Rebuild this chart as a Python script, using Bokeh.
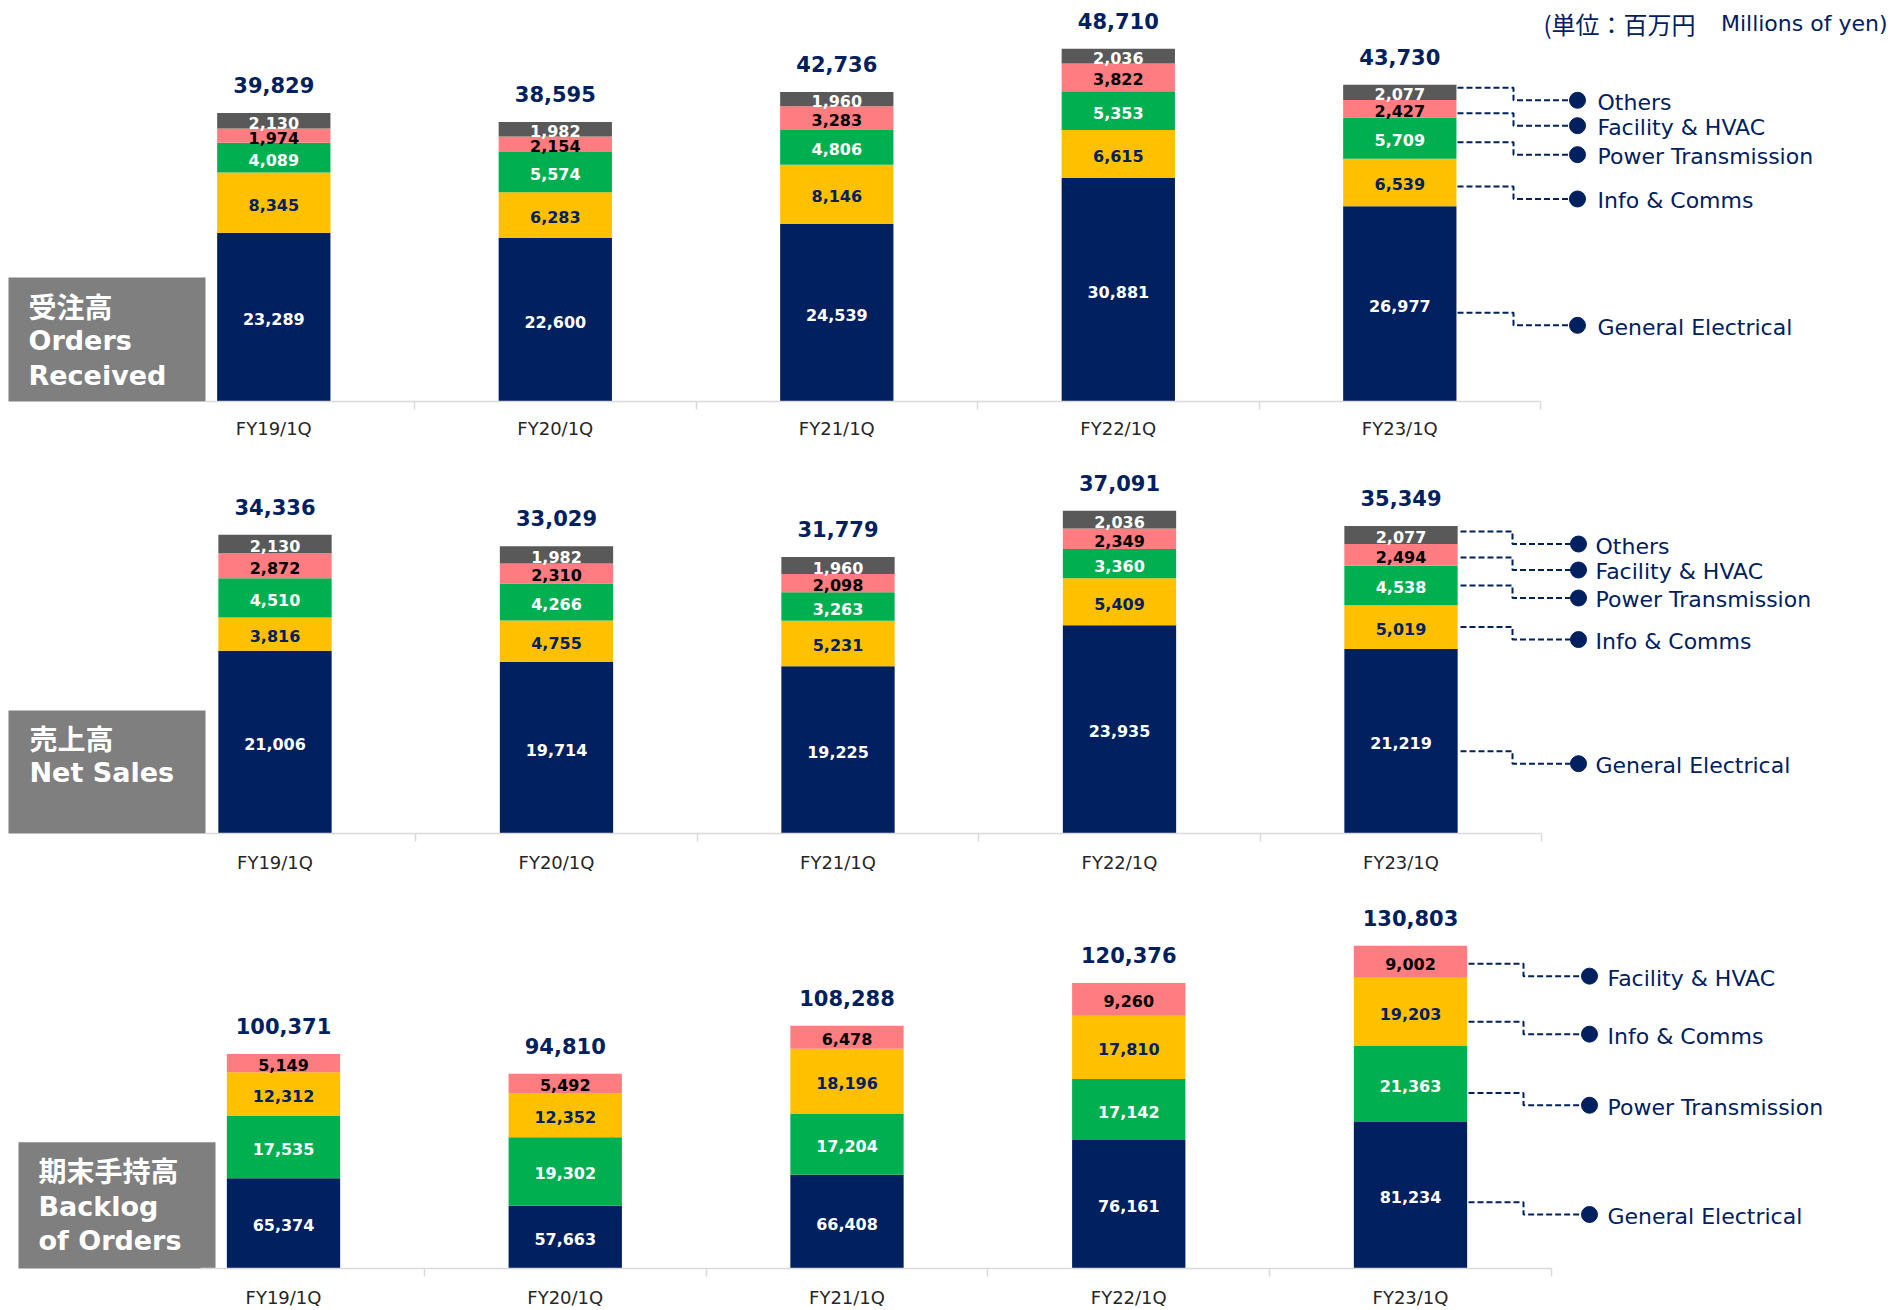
import numpy as np
from bokeh.plotting import figure
from bokeh.layouts import column
from bokeh.models import Range1d, FixedTicker, ColumnDataSource
from bokeh.core.properties import value
from bokeh.embed import file_html
from bokeh.resources import INLINE

# ---------------- data ----------------
categories = ["FY19/1Q", "FY20/1Q", "FY21/1Q", "FY22/1Q", "FY23/1Q"]

orders_general = [23289, 22600, 24539, 30881, 26977]
orders_info = [8345, 6283, 8146, 6615, 6539]
orders_power = [4089, 5574, 4806, 5353, 5709]
orders_facility = [1974, 2154, 3283, 3822, 2427]
orders_others = [2130, 1982, 1960, 2036, 2077]
orders_totals = [39829, 38595, 42736, 48710, 43730]

sales_general = [21006, 19714, 19225, 23935, 21219]
sales_info = [3816, 4755, 5231, 5409, 5019]
sales_power = [4510, 4266, 3263, 3360, 4538]
sales_facility = [2872, 2310, 2098, 2349, 2494]
sales_others = [2130, 1982, 1960, 2036, 2077]
sales_totals = [34336, 33029, 31779, 37091, 35349]

backlog_general = [65374, 57663, 66408, 76161, 81234]
backlog_power = [17535, 19302, 17204, 17142, 21363]
backlog_info = [12312, 12352, 18196, 17810, 19203]
backlog_facility = [5149, 5492, 6478, 9260, 9002]
backlog_totals = [100371, 94810, 108288, 120376, 130803]

# ---------------- styles ----------------
NAVY = "#002060"
STYLE = {
    "General Electrical": ("#002060", "white"),
    "Info & Comms": ("#FFC000", "#002060"),
    "Power Transmission": ("#00B050", "white"),
    "Facility & HVAC": ("#FF7C80", "black"),
    "Others": ("#595959", "white"),
}
LATIN = "DejaVu Sans"
CJK = "Noto Sans CJK JP"
FIG_W = 1892
PAGE_X0 = 0

panels = [
    dict(series=[("General Electrical", orders_general), ("Info & Comms", orders_info),
                 ("Power Transmission", orders_power), ("Facility & HVAC", orders_facility),
                 ("Others", orders_others)],
         totals=orders_totals,
         fig_top=0, fig_h=452, base_py=401, y_start=0, ppu=0.007241,
         c0=273.3, dx=281.5, bar_px=113.3, axis_start_px=205, standoff=8,
         box=(8, 205, 277, 402), box_text_x=28,
         box_lines=[("受注高", 305, True), ("Orders", 340, False), ("Received", 375, False)],
         leg=(1457, 1513, 1577, 1597),
         nudge={"General Electrical": 9, "Info & Comms": 4, "Power Transmission": 4,
                "Facility & HVAC": 4.5, "Others": -4.6},
         unit=True),
    dict(series=[("General Electrical", sales_general), ("Info & Comms", sales_info),
                 ("Power Transmission", sales_power), ("Facility & HVAC", sales_facility),
                 ("Others", sales_others)],
         totals=sales_totals,
         fig_top=452, fig_h=433, base_py=833, y_start=0, ppu=0.0087,
         c0=274.5, dx=281.5, bar_px=113.3, axis_start_px=205, standoff=10,
         box=(8, 205, 710, 834), box_text_x=29,
         box_lines=[("売上高", 737, True), ("Net Sales", 772, False)],
         leg=(1460, 1512, 1578, 1595),
         nudge={"General Electrical": 10, "Info & Comms": 0, "Power Transmission": 0,
                "Facility & HVAC": 2.6, "Others": -3.5},
         unit=False),
    dict(series=[("General Electrical", backlog_general), ("Power Transmission", backlog_power),
                 ("Info & Comms", backlog_info), ("Facility & HVAC", backlog_facility)],
         totals=backlog_totals,
         fig_top=885, fig_h=425, base_py=1273, y_start=40000, ppu=0.0036,
         c0=283.0, dx=281.75, bar_px=113.3, axis_start_px=200, standoff=10,
         box=(18, 215, 1145, 1274), box_text_x=38,
         box_lines=[("期末手持高", 1173, True), ("Backlog", 1210, False), ("of Orders", 1245, False)],
         leg=(1468, 1523, 1589, 1607),
         nudge={"General Electrical": 7, "Power Transmission": 9, "Info & Comms": 10,
                "Facility & HVAC": 2},
         unit=False),
]


def make_panel(cfg):
    frame_h = cfg["base_py"] - cfg["fig_top"]
    c0, dx, ppu, y0, base = cfg["c0"], cfg["dx"], cfg["ppu"], cfg["y_start"], cfg["base_py"]

    def xd(px):
        return (px - c0) / dx

    def yd(py):
        return y0 + (base - py) / ppu

    p = figure(width=FIG_W, height=cfg["fig_h"],
               x_range=Range1d(xd(PAGE_X0), xd(PAGE_X0 + FIG_W)),
               y_range=Range1d(y0, y0 + frame_h / ppu),
               output_backend="svg", toolbar_location=None, y_axis_location=None,
               min_border_left=0, min_border_right=0, min_border_top=0,
               min_border_bottom=cfg["fig_h"] - frame_h)
    p.xgrid.visible = False
    p.ygrid.visible = False
    p.outline_line_color = None

    n = len(categories)
    xs = np.arange(n, dtype=float)
    bw = cfg["bar_px"] / dx

    # grey title box
    bl, br, bt, bb = cfg["box"]
    p.quad(left=[xd(bl)], right=[xd(br)], top=[yd(bt)], bottom=[yd(bb)],
           fill_color="#7F7F7F", line_color=None)
    for txt, py, is_jp in cfg["box_lines"]:
        p.text(x=[xd(cfg["box_text_x"])], y=[yd(py)], text=[txt],
               text_font=value(CJK if is_jp else LATIN), text_font_style="bold",
               text_font_size="28px" if is_jp else "27px", text_color="white",
               text_align="left", text_baseline="middle")

    # stacked bars
    bottom = np.zeros(n)
    seg_info = []
    for name, vals in cfg["series"]:
        vals = np.array(vals, dtype=float)
        top = bottom + vals
        fill, tcol = STYLE[name]
        src = ColumnDataSource(dict(x=xs, bottom=bottom.copy(), top=top,
                                    mid=(np.maximum(bottom, y0) + top) / 2,
                                    label=[f"{int(v):,}" for v in vals]))
        p.vbar(x="x", bottom="bottom", top="top", width=bw, source=src,
               fill_color=fill, line_color=None)
        seg_info.append((name, src, tcol))
        bottom = top

    for name, src, tcol in seg_info:
        p.text(x="x", y="mid", text="label", source=src, text_font=value(LATIN),
               text_font_style="bold", text_font_size="16px", text_color=tcol,
               text_align="center", text_baseline="middle", y_offset=2)

    # totals
    tsrc = ColumnDataSource(dict(x=xs, y=bottom, label=[f"{t:,}" for t in cfg["totals"]]))
    p.text(x="x", y="y", text="label", source=tsrc, text_font=value(LATIN),
           text_font_style="bold", text_font_size="21px", text_color=NAVY,
           text_align="center", text_baseline="middle", y_offset=-28)

    # leader-line legend on the right of the last bar
    sx, stx, dotx, tx = cfg["leg"]
    xsl, ysl, dot_y, names = [], [], [], []
    for name, src, tcol in seg_info:
        mid_py = base - (src.data["mid"][-1] - y0) * ppu
        s_py = mid_py + cfg["nudge"][name]
        d_py = s_py + 12.5
        xsl.append([xd(sx), xd(stx), xd(stx), xd(dotx)])
        ysl.append([yd(s_py), yd(s_py), yd(d_py), yd(d_py)])
        dot_y.append(yd(d_py))
        names.append(name)
    p.multi_line(xs=xsl, ys=ysl, line_color=NAVY, line_width=2, line_dash="6 3")
    p.scatter(x=[xd(dotx)] * len(dot_y), y=dot_y, size=16, marker="circle",
              fill_color=NAVY, line_color=NAVY)
    p.text(x=[xd(tx)] * len(dot_y), y=dot_y, text=names, text_font=value(LATIN),
           text_font_size="22px", text_color=NAVY, text_align="left",
           text_baseline="middle", y_offset=2)

    if cfg["unit"]:
        p.text(x=[xd(1543)], y=[yd(23)], text=["(単位：百万円"], text_font=value(CJK),
               text_font_size="24px", text_color=NAVY, text_align="left",
               text_baseline="middle")
        p.text(x=[xd(1887)], y=[yd(23)], text=["Millions of yen)"], text_font=value(LATIN),
               text_font_size="22px", text_color=NAVY, text_align="right",
               text_baseline="middle")

    # category axis
    ax = p.xaxis[0]
    ax.ticker = FixedTicker(ticks=list(range(n)),
                            minor_ticks=[i + 0.5 for i in range(n)])
    ax.major_label_overrides = {i: c for i, c in enumerate(categories)}
    ax.bounds = (xd(cfg["axis_start_px"]), n - 0.5)
    ax.axis_line_color = "#D9D9D9"
    ax.axis_line_width = 1.5
    ax.major_tick_line_color = None
    ax.major_tick_out = 0
    ax.major_tick_in = 0
    ax.minor_tick_line_color = "#D9D9D9"
    ax.minor_tick_line_width = 1.5
    ax.minor_tick_out = 8
    ax.minor_tick_in = 0
    ax.major_label_text_font = LATIN
    ax.major_label_text_font_size = "18px"
    ax.major_label_text_color = "#262626"
    ax.major_label_standoff = cfg["standoff"]
    return p


figs = [make_panel(c) for c in panels]
layout = column(*figs, spacing=0)
open("out.html", "w").write(file_html(layout, INLINE))
